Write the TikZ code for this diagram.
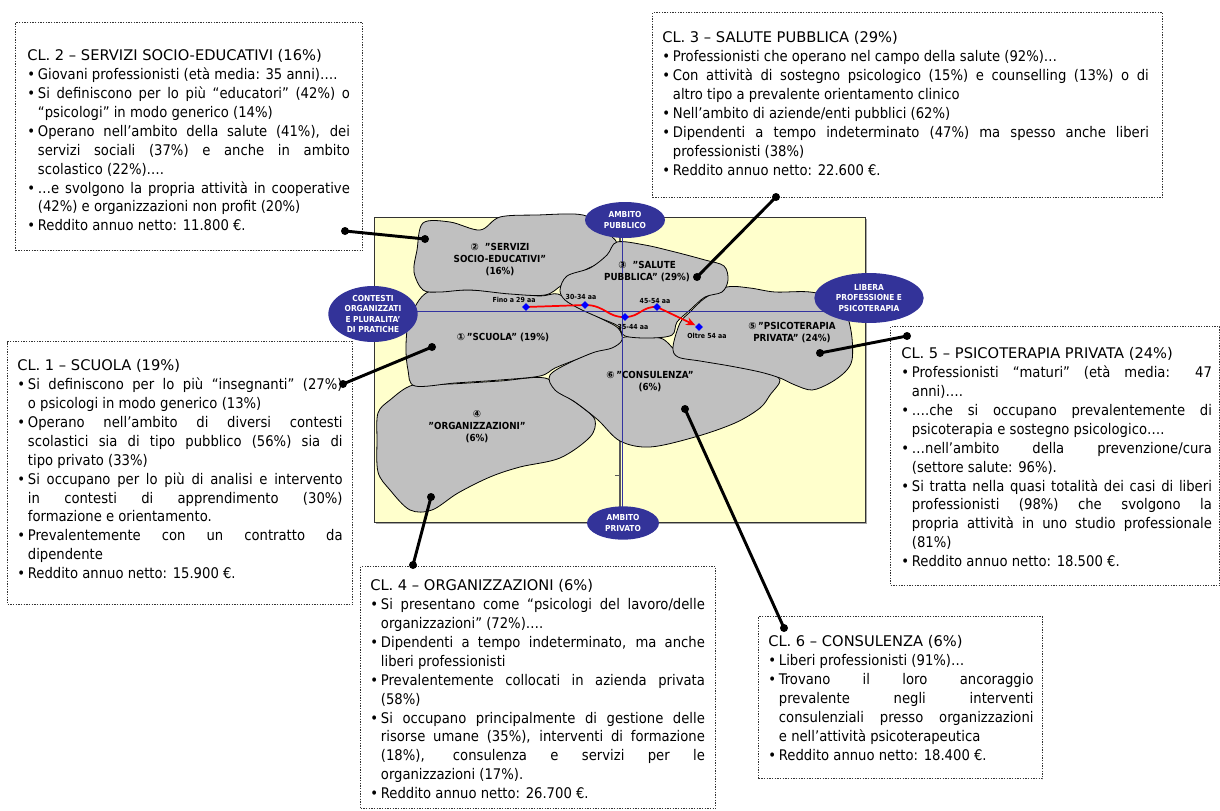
\documentclass[tikz,border=0pt]{standalone}
\usepackage{fontspec}
\setmainfont{DejaVu Sans Condensed}
\newfontfamily\dvs{DejaVu Sans}
\usetikzlibrary{shapes.geometric,arrows.meta}
\definecolor{navy}{HTML}{333399}
\definecolor{pale}{HTML}{FFFFCC}
\definecolor{rgray}{HTML}{C0C0C0}
\definecolor{axblue}{HTML}{3333A0}
\newcommand\bitem{\par\noindent\hangindent=8pt\hangafter=1\makebox[8pt][l]{•}}
\newcommand\q{\char34 }
\newcommand\cltext[3]{\begin{minipage}{#1}\fontsize{11pt}{14.2pt}\selectfont\hyphenpenalty=10000\exhyphenpenalty=10000\tolerance=10000\hbadness=10000\noindent\strut{\dvs #2}#3\end{minipage}}
\begin{document}
\begin{tikzpicture}[x=0.75pt,y=-0.75pt,
  region/.style={fill=rgray,draw=black,line width=0.6pt},
  ell/.style={ellipse,fill=navy,draw=none,text=white,align=center,inner sep=0pt,font=\bfseries\fontsize{6.2pt}{7.8pt}\selectfont},
  dotbox/.style={draw=black!80,line width=1pt,dash pattern=on 1pt off 1pt,anchor=north west,inner sep=0pt},
  txt/.style={anchor=north west,inner sep=0pt},
  rlab/.style={align=center,font=\bfseries\fontsize{7.3pt}{9pt}\selectfont,inner sep=0pt},
  age/.style={font=\bfseries\fontsize{5.2pt}{6pt}\selectfont,inner sep=0pt},
  dot/.style={circle,fill=black,inner sep=0pt,minimum size=6pt},
  conn/.style={line width=2.2pt,black},
  axis/.style={draw=axblue,line width=0.6pt},
  mk/.style={diamond,fill=blue,inner sep=0pt,minimum size=6pt}]
\useasboundingbox (0,0) rectangle (1220,810);
% panel
\fill[gray!70] (376,219) rectangle (867,524);
\filldraw[fill=pale,draw=black!80,line width=0.5pt] (374,217) rectangle (865,522);
\draw[gray!70!black,line width=1.2pt] (620,217) -- (620,507);
\draw[gray!70!black,line width=0.6pt] (615,475) -- (620,475);
% regions
\filldraw[region] plot[smooth cycle,tension=0.55] coordinates {(413,385) (450,384) (500,381) (545,378) (565,395) (583,408) (595,420) (590,437) (560,458) (520,467) (490,477) (458,493) (432,510) (410,510) (390,490) (378,472) (377,440) (378,413) (390,400)};
\filldraw[region] plot[smooth cycle,tension=0.55] coordinates {(550,375) (575,360) (610,345) (625,337) (660,338) (675,350) (690,358) (730,365) (765,372) (780,380) (770,395) (760,408) (735,423) (695,437) (650,447) (620,441) (598,420) (575,402) (555,390)};
\filldraw[region] plot[smooth cycle,tension=0.55] coordinates {(428,292) (470,290) (510,293) (540,296) (558,294) (575,305) (600,318) (618,328) (622,340) (612,348) (595,352) (575,360) (555,368) (540,376) (500,380) (455,383) (415,386) (408,370) (406,345) (410,318)};
\filldraw[region] plot[smooth cycle,tension=0.55] coordinates {(423,223) (450,222) (480,230) (500,217) (537,215) (583,215) (603,230) (617,243) (610,258) (585,270) (562,285) (545,295) (510,294) (470,290) (440,292) (423,290) (414,272) (417,250)};
\filldraw[region] plot[smooth cycle,tension=0.55] coordinates {(673,347) (680,323) (690,312) (705,298) (727,287) (750,288) (775,292) (810,292) (840,300) (848,318) (852,338) (852,360) (845,372) (830,383) (812,390) (795,385) (780,378) (760,372) (730,366) (700,361) (678,357)};
\filldraw[region] plot[smooth cycle,tension=0.55] coordinates {(560,290) (567,276) (590,268) (607,255) (617,242) (645,245) (675,252) (705,260) (724,266) (728,280) (722,292) (705,297) (690,310) (677,322) (672,335) (650,338) (625,336) (618,326) (600,318) (580,309) (565,300)};
% axes
\coordinate (hL) at (374,311); \coordinate (hR) at (865,311);
\coordinate (vT) at (622,217); \coordinate (vB) at (622,522);
\draw[axis] (hL) -- (hR);
\draw[axis] (vT) -- (vB);
% age path
\coordinate (a29) at (526,307); \coordinate (a30) at (585,305);
\coordinate (a35) at (625,317); \coordinate (a45) at (657,307);
\coordinate (a55) at (699,327);
\draw[red,line width=1.3pt,-{Stealth[length=7pt,width=6pt]},shorten >=3pt] (a29) -- (a30) .. controls (605,305) and (608,318) .. (a35) .. controls (640,317) and (642,306) .. (a45) -- (a55);
\node[mk] (m29) at (a29) {}; \node[mk] (m30) at (a30) {};
\node[mk] (m35) at (a35) {}; \node[mk] (m45) at (a45) {};
\node[mk] (m55) at (a55) {};
\node[age] (t29) at (514,300) {Fino a 29 aa};
\node[age] (t30) at (581,297) {30-34 aa};
\node[age] (t35) at (633,327) {35-44 aa};
\node[age] (t45) at (655,301) {45-54 aa};
\node[age] (t55) at (707,336) {Oltre 54 aa};
% region labels
\node[rlab] (l2) at (500,260) {{\dvs ②}\ \ \q SERVIZI\\SOCIO-EDUCATIVI\q\\(16\%)};
\node[rlab] (l3) at (647,272) {{\dvs ③}\ \ \q SALUTE\\PUBBLICA\q\ (29\%)};
\node[rlab] (l1) at (503,337) {{\dvs ①}\,\q SCUOLA\q\ (19\%)};
\node[rlab] (l6) at (650,382) {{\dvs ⑥}\,\q CONSULENZA\q\\(6\%)};
\node[rlab] (l4) at (477,427) {{\dvs ④}\\\q ORGANIZZAZIONI\q\\(6\%)};
\node[rlab] (l5) at (792,333) {{\dvs ⑤}\,\q PSICOTERAPIA\\PRIVATA\q\ (24\%)};
% ellipses
\node[ell,minimum width=60pt,minimum height=27pt] (pub) at (625,220) {AMBITO\\PUBBLICO};
\node[ell,minimum width=67pt,minimum height=42pt] (ctx) at (373,314) {CONTESTI\\ORGANIZZATI\\E PLURALITA’\\DI PRATICHE};
\node[ell,minimum width=82pt,minimum height=37.5pt] (lib) at (869,298) {LIBERA\\PROFESSIONE E\\PSICOTERAPIA};
\node[ell,minimum width=54pt,minimum height=25pt] (priv) at (623,523) {AMBITO\\PRIVATO};
% boxes
\node[dotbox,minimum width=260.25pt,minimum height=171pt] (b2) at (15,22) {};
\node[dotbox,minimum width=382.5pt,minimum height=138.75pt] (b3) at (652,12) {};
\node[dotbox,minimum width=258.75pt,minimum height=197.25pt] (b1) at (7,341) {};
\node[dotbox,minimum width=246.75pt,minimum height=194.25pt] (b5) at (890,326) {};
\node[dotbox,minimum width=266.25pt,minimum height=181.5pt] (b4) at (360,566) {};
\node[dotbox,minimum width=213pt,minimum height=121.5pt] (b6) at (758,616) {};
\node[txt] (c2) at (27,47) {\cltext{242pt}{CL. 2 – SERVIZI SOCIO-EDUCATIVI (16\%)}{
\bitem Giovani professionisti (età media: 35 anni)….
\bitem Si definiscono per lo più “educatori” (42\%) o\linebreak “psicologi” in modo generico (14\%)
\bitem Operano nell’ambito della salute (41\%), dei\linebreak servizi sociali (37\%) e anche in ambito\linebreak scolastico (22\%)….
\bitem …e svolgono la propria attività in cooperative\linebreak (42\%) e organizzazioni non profit (20\%)
\bitem Reddito annuo netto: 11.800 €.}};
\node[txt] (c3) at (662,29) {\cltext{365pt}{CL. 3 – SALUTE PUBBLICA (29\%)}{
\bitem Professionisti che operano nel campo della salute (92\%)…
\bitem Con attività di sostegno psicologico (15\%) e counselling (13\%) o di\linebreak altro tipo a prevalente orientamento clinico
\bitem Nell’ambito di aziende/enti pubblici (62\%)
\bitem Dipendenti a tempo indeterminato (47\%) ma spesso anche liberi\linebreak professionisti (38\%)
\bitem Reddito annuo netto: 22.600 €.}};
\node[txt] (c1) at (17,357) {\cltext{244pt}{CL. 1 – SCUOLA (19\%)}{
\bitem Si definiscono per lo più “insegnanti” (27\%)\linebreak o psicologi in modo generico (13\%)
\bitem Operano nell’ambito di diversi contesti\linebreak scolastici sia di tipo pubblico (56\%) sia di\linebreak tipo privato (33\%)
\bitem Si occupano per lo più di analisi e intervento\linebreak in contesti di apprendimento (30\%)\linebreak formazione e orientamento.
\bitem Prevalentemente con un contratto da\linebreak dipendente
\bitem Reddito annuo netto: 15.900 €.}};
\node[txt] (c5) at (901,345) {\cltext{233pt}{CL. 5 – PSICOTERAPIA PRIVATA (24\%)}{
\bitem Professionisti “maturi” (età media: 47\linebreak anni)….
\bitem ….che si occupano prevalentemente di\linebreak psicoterapia e sostegno psicologico….
\bitem …nell’ambito della prevenzione/cura\linebreak (settore salute: 96\%).
\bitem Si tratta nella quasi totalità dei casi di liberi\linebreak professionisti (98\%) che svolgono la\linebreak propria attività in uno studio professionale\linebreak (81\%)
\bitem Reddito annuo netto: 18.500 €.}};
\node[txt] (c4) at (370,577) {\cltext{251pt}{CL. 4 – ORGANIZZAZIONI (6\%)}{
\bitem Si presentano come “psicologi del lavoro/delle\linebreak organizzazioni” (72\%)….
\bitem Dipendenti a tempo indeterminato, ma anche\linebreak liberi professionisti
\bitem Prevalentemente collocati in azienda privata\linebreak (58\%)
\bitem Si occupano principalmente di gestione delle\linebreak risorse umane (35\%), interventi di formazione\linebreak (18\%), consulenza e servizi per le\linebreak organizzazioni (17\%).
\bitem Reddito annuo netto: 26.700 €.}};
\node[txt] (c6) at (768,633) {\cltext{199pt}{CL. 6 – CONSULENZA (6\%)}{
\bitem Liberi professionisti (91\%)…
\bitem Trovano il loro ancoraggio\linebreak prevalente negli interventi\linebreak consulenziali presso organizzazioni\linebreak e nell’attività psicoterapeutica
\bitem Reddito annuo netto: 18.400 €.}};
% connectors
\node[dot] (d2b) at (345,231) {}; \node[dot] (d2r) at (425,239) {};
\node[dot] (d3b) at (776,197) {}; \node[dot] (d3r) at (697,277) {};
\node[dot] (d1b) at (343,384) {}; \node[dot] (d1r) at (432,347) {};
\node[dot] (d5b) at (907,336) {}; \node[dot] (d5r) at (820,353) {};
\node[dot] (d4b) at (413,565) {}; \node[dot] (d4r) at (431,497) {};
\node[dot] (d6b) at (784,628) {}; \node[dot] (d6r) at (685,409) {};
\draw[conn] (d2b.center) -- (d2r.center);
\draw[conn] (d3b.center) -- (d3r.center);
\draw[conn] (d1b.center) -- (d1r.center);
\draw[conn] (d5b.center) -- (d5r.center);
\draw[conn] (d4b.center) -- (d4r.center);
\draw[conn] (d6b.center) -- (d6r.center);
\end{tikzpicture}
\end{document}
